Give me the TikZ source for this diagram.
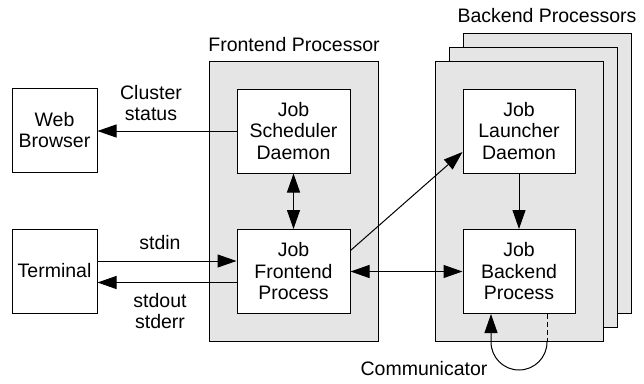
\documentclass[tikz,border=0pt]{standalone}
\usepackage{fontspec}
\setmainfont{Liberation Sans}
\usetikzlibrary{arrows.meta, positioning}

\begin{document}
\begin{tikzpicture}[
	x=1pt, y=-1pt,
	font=\fontsize{19.5}{21.5}\selectfont,
	line width=1pt,
	panel/.style = {draw, fill=black!10, minimum width=168pt, minimum height=280pt},
	box/.style   = {draw, fill=white, minimum width=113pt, minimum height=84pt, align=center},
	io/.style    = {box, minimum width=85pt},
	lbl/.style   = {align=center},
	arr/.style   = {-{Triangle[length=19pt,width=13pt]}},
	darr/.style  = {{Triangle[length=19pt,width=13pt]}-{Triangle[length=19pt,width=13pt]}}
     ]
	\useasboundingbox (0,0) rectangle (644,383);
% processor panels
	\node[panel, minimum width=169pt] (front) at (293.5,201) {};
	\node[panel] (back3) at (547,173) {};
	\node[panel] (back2) at (533,187) {};
	\node[panel] (back1) at (519,201) {};
	\node (frontlbl) at (294,45) {Frontend Processor};
	\node (backlbl)  at (547,16) {Backend Processors};
% boxes
	\node[io]  (browser)  at (54.5,130)   {Web\\Browser};
	\node[io]  (terminal) at (54.5,271)   {Terminal};
	\node[box] (sched)    at (293.5,131)  {Job\\Scheduler\\Daemon};
	\node[box] (fproc)    at (293.5,271.5){Job\\Frontend\\Process};
	\node[box, minimum width=112pt] (launch) at (519,131)   {Job\\Launcher\\Daemon};
	\node[box, minimum width=112pt] (bproc)  at (519,271.5) {Job\\Backend\\Process};
% connections
	\draw[arr] (sched.west) -- (sched.west -| browser.east);
	\node[lbl] (status) at (151,103) {Cluster\\status};
%
	\draw[arr] ([yshift=10pt]terminal.east) -- ([yshift=10pt]terminal.east -| fproc.west);
	\node (stdin) at (160,243) {stdin};
	\draw[arr] ([yshift=-11pt]fproc.west) -- ([yshift=-11pt]fproc.west -| terminal.east);
	\node[lbl] (stdout) at (160,311) {stdout\\stderr};
%
	\draw[darr] (sched) -- (fproc);
	\draw[darr] (fproc) -- (bproc);
	\draw[arr] ([yshift=21pt]fproc.east) -- ([yshift=-21pt]launch.west);
	\draw[arr] (launch) -- (bproc);
% communicator loop
	\coordinate (cr) at (547,342);
	\draw[dashed, dash pattern=on 5pt off 3pt] ([xshift=28pt]bproc.south) -- (cr);
	\draw[arr] (cr) arc[start angle=0, end angle=180, radius=28] -- ([xshift=-28pt]bproc.south);
	\node (comm) at (424,369) {Communicator};
\end{tikzpicture}
\end{document}
